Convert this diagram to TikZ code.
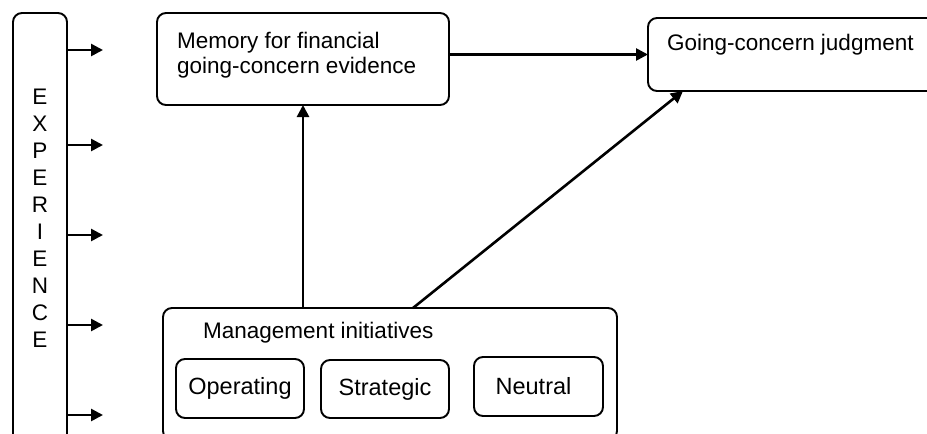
\documentclass[tikz,border=0pt]{standalone}
\usepackage{fontspec}
\setmainfont{Liberation Sans}
\usetikzlibrary{positioning,arrows.meta}

\begin{document}
\begin{tikzpicture}[x=1pt,y=-1pt,
    box/.style={draw, line width=1.9pt, rounded corners=9pt, outer sep=0pt, inner sep=0pt},
    lbl/.style={font=\fontsize{22.5}{25}\selectfont, inner sep=0pt},
    sub/.style={box, lbl, font=\fontsize{23.5}{25}\selectfont, minimum width=128pt, minimum height=59pt},
    arr/.style={line width=2.6pt, -{Triangle[length=12pt,width=12pt]}}]
    \useasboundingbox (0,0) rectangle (927,434);

    % left bar
    \node[box, minimum width=54pt, minimum height=430pt] (exp) at (40,228) {};
    \node[lbl, font=\fontsize{22.5}{27}\selectfont, align=center, anchor=north] (exptxt) at (40,89)
        {E\\X\\P\\E\\R\\I\\E\\N\\C\\E};

    % boxes
    \node[box, minimum width=292pt, minimum height=92pt] (mem) at (303,59) {};
    \node[lbl, align=left, anchor=north west] (memtxt) at (177,32)
        {Memory for financial\\going-concern evidence};
    \node[box, minimum width=292pt, minimum height=73pt] (gcj) at (794,54.5) {};
    \node[lbl, anchor=base west] (gcjtxt) at (667,50) {Going-concern judgment};
    \node[box, minimum width=454pt, minimum height=132pt] (mgmt) at (390,374) {};
    \node[lbl, anchor=base west] (mgmttxt) at (203,338) {Management initiatives};
    \node[sub] (oper) at (240,388.5) {Operating};
    \node[sub, minimum height=58pt] (strat) at (385,389) {Strategic};
    \node[sub, minimum width=129pt] (neut) at (538.5,386.5) {\hspace*{-10pt}Neutral};

    % arrows
    \foreach \y [count=\i] in {50,145,235,325,415} {
        \coordinate (x\i) at (103,\y);
        \draw[arr] (exp.east |- x\i) -- (x\i);
    }
    \draw[arr] (mem.east |- gcj.west) -- (gcj.west);
    \draw[arr] (mgmt.north -| mem.south) -- (mem.south);
    \draw[arr] ([xshift=23pt]mgmt.north) -- ([xshift=-111pt]gcj.south);
\end{tikzpicture}
\end{document}
